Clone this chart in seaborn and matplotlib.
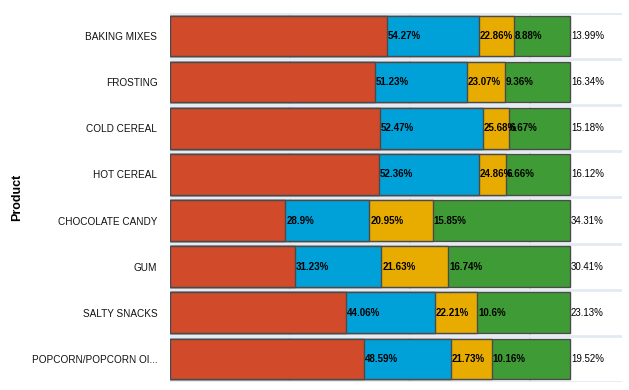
import pandas as pd
import matplotlib
matplotlib.use('Agg')
import matplotlib.pyplot as plt
import seaborn as sns

# Share of each product by segment (%)
products = ['BAKING MIXES', 'FROSTING', 'COLD CEREAL', 'HOT CEREAL',
            'CHOCOLATE CANDY', 'GUM', 'SALTY SNACKS', 'POPCORN/POPCORN OI...']
seg_1 = [54.27, 51.23, 52.47, 52.36, 28.9, 31.23, 44.06, 48.59]
seg_2 = [22.86, 23.07, 25.68, 24.86, 20.95, 21.63, 22.21, 21.73]
seg_3 = [8.88, 9.36, 6.67, 6.66, 15.85, 16.74, 10.6, 10.16]
seg_4 = [13.99, 16.34, 15.18, 16.12, 34.31, 30.41, 23.13, 19.52]

colors = ['#d14b2b', '#00a0d8', '#e8ac00', '#3f9b35']

df = pd.DataFrame({'Product': products, 's1': seg_1, 's2': seg_2, 's3': seg_3, 's4': seg_4})
segs = ['s1', 's2', 's3', 's4']
for s in segs:
    df[s] = df[s] / 100
cum = df[segs].cumsum(axis=1)

sns.set_style('white')
plt.rcParams['font.family'] = ['Liberation Sans', 'DejaVu Sans']

fig = plt.figure(figsize=(6.29, 3.9), dpi=100)
ax = fig.add_axes([0.270, 0.0205, 0.719, 0.9465])

# stacked bars: draw cumulative totals, widest first
for s, c in reversed(list(zip(segs, colors))):
    sns.barplot(x=cum[s], y=df['Product'], orient='h', color=c, width=0.88,
                edgecolor='#4a4a4a', linewidth=1, saturation=1, ax=ax, zorder=2)

# labels sit at the right end of each segment
for i in range(len(df)):
    for s in segs:
        ax.text(cum.loc[i, s] + 0.002, i, f"{df.loc[i, s] * 100:g}%",
                ha='left', va='center', fontsize=7, fontweight='bold' if s != 's4' else 'normal',
                color='black', zorder=3)

ax.set_xlim(0, 1.13)
ax.set_ylim(7.5, -0.5)
ax.set_xticks([0, 0.3, 0.6, 0.9])
ax.set_xticklabels([])
ax.set_yticks(range(len(products)))
ax.set_yticklabels(products, fontsize=7.2, color='#111111')
ax.tick_params(axis='y', length=0, pad=9)
ax.tick_params(axis='x', length=0)
for x in [0, 0.3, 0.6, 0.9]:
    ax.axvline(x, color='#e3eaf3', lw=1.5, zorder=0)
for y in [k - 0.5 for k in range(len(products) + 1)]:
    ax.axhline(y, color='#e3eaf3', lw=2, zorder=0)
ax.grid(False)
for sp in ax.spines.values():
    sp.set_visible(False)
ax.set_xlabel('')
ax.set_ylabel('Product', fontsize=9, fontweight='bold', labelpad=0, color='black')
ax.yaxis.set_label_coords(-0.325, 0.5)

fig.savefig('out.png', dpi=100)
